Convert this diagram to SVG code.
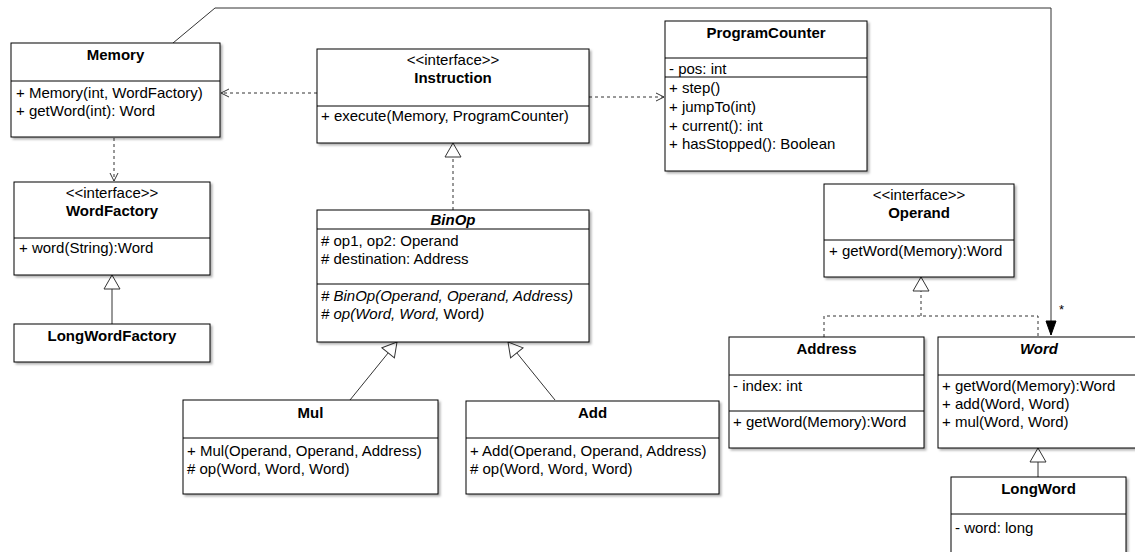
<svg xmlns="http://www.w3.org/2000/svg" width="1135" height="552" viewBox="0 0 1135 552">
<style>
text{font-family:"Liberation Sans",Arial,Helvetica,sans-serif;font-size:15px;fill:#000}
.t{font-weight:bold;text-anchor:middle}
.c{text-anchor:middle}
.i{font-style:italic}
.box{fill:#fff;stroke:#000;stroke-width:1;filter:url(#sh)}
.div{stroke:#000;stroke-width:1}
.ln{fill:none;stroke:#333;stroke-width:1}
.da{stroke-dasharray:3,3}
</style>
<defs>
<filter id="sh" x="-5%" y="-5%" width="115%" height="120%">
<feDropShadow dx="2" dy="2" stdDeviation="1.2" flood-color="#000" flood-opacity="0.3"/>
</filter>
<marker id="tri" markerUnits="userSpaceOnUse" markerWidth="20" markerHeight="20" refX="15" refY="8" orient="auto" overflow="visible"><path d="M1,0 L15,8 L1,16 Z" fill="#fff" stroke="#333" stroke-width="1"/></marker>
<marker id="open" markerUnits="userSpaceOnUse" markerWidth="12" markerHeight="12" refX="8" refY="4" orient="auto" overflow="visible"><path d="M0,0 L8,4 L0,8" fill="none" stroke="#333" stroke-width="1"/></marker>
<marker id="fill" markerUnits="userSpaceOnUse" markerWidth="16" markerHeight="12" refX="14" refY="5" orient="auto" overflow="visible"><path d="M0,0 L14,5 L0,10 Z" fill="#000" stroke="#000" stroke-width="1"/></marker>
</defs>
<rect width="1135" height="552" fill="#fff"/>

<g id="connectors">
<path class="ln" d="M173,43 L215,8 L1051,8 L1051,335" marker-end="url(#fill)"/>
<text x="1059" y="314" style="font-size:13px">*</text>
<path class="ln da" d="M317,93 L221,93" marker-end="url(#open)"/>
<path class="ln da" d="M589,97 L664,97" marker-end="url(#open)"/>
<path class="ln da" d="M114,138 L114,181" marker-end="url(#open)"/>
<path class="ln" d="M112,324 L112,275" marker-end="url(#tri)"/>
<path class="ln da" d="M453,210 L453,143" marker-end="url(#tri)"/>
<path class="ln" d="M350,400 L397,342" marker-end="url(#tri)"/>
<path class="ln" d="M555,400 L508,342" marker-end="url(#tri)"/>
<path class="ln da" d="M824,337 L824,316 L1038,316 L1038,337"/>
<path class="ln da" d="M921,316 L921,277" marker-end="url(#tri)"/>
<path class="ln" d="M1038,477 L1038,448" marker-end="url(#tri)"/>
</g>

<g id="Memory">
<rect class="box" x="11" y="43" width="209" height="94"/>
<line class="div" x1="11" y1="81" x2="220" y2="81"/>
<text class="t" x="115.5" y="60">Memory</text>
<text x="16" y="98">+ Memory(int, WordFactory)</text>
<text x="16" y="116">+ getWord(int): Word</text>
</g>

<g id="Instruction">
<rect class="box" x="317" y="49" width="272" height="94"/>
<line class="div" x1="317" y1="106" x2="589" y2="106"/>
<text class="c" x="453" y="65">&lt;&lt;interface&gt;&gt;</text>
<text class="t" x="453" y="83">Instruction</text>
<text x="321" y="121">+ execute(Memory, ProgramCounter)</text>
</g>

<g id="ProgramCounter">
<rect class="box" x="665" y="21" width="202" height="150"/>
<line class="div" x1="665" y1="58" x2="867" y2="58"/>
<line class="div" x1="665" y1="77" x2="867" y2="77"/>
<text class="t" x="766" y="38">ProgramCounter</text>
<text x="669" y="74">- pos: int</text>
<text x="669" y="93">+ step()</text>
<text x="669" y="112">+ jumpTo(int)</text>
<text x="669" y="131">+ current(): int</text>
<text x="669" y="149">+ hasStopped(): Boolean</text>
</g>

<g id="WordFactory">
<rect class="box" x="14" y="182" width="196" height="93"/>
<line class="div" x1="14" y1="238" x2="210" y2="238"/>
<text class="c" x="112" y="198">&lt;&lt;interface&gt;&gt;</text>
<text class="t" x="112" y="216">WordFactory</text>
<text x="19" y="253">+ word(String):Word</text>
</g>

<g id="LongWordFactory">
<rect class="box" x="14" y="324" width="196" height="38"/>
<text class="t" x="112" y="341">LongWordFactory</text>
</g>

<g id="BinOp">
<rect class="box" x="317" y="210" width="272" height="132"/>
<line class="div" x1="317" y1="229" x2="589" y2="229"/>
<line class="div" x1="317" y1="284" x2="589" y2="284"/>
<text class="t i" x="453" y="225">BinOp</text>
<text x="321" y="246"># op1, op2: Operand</text>
<text x="321" y="264"># destination: Address</text>
<text class="i" x="321" y="301"># BinOp(Operand, Operand, Address)</text>
<text x="321" y="319"><tspan class="i"># op(Word, Word, </tspan><tspan>Word</tspan><tspan class="i">)</tspan></text>
</g>

<g id="Mul">
<rect class="box" x="183" y="400" width="255" height="94"/>
<line class="div" x1="183" y1="438" x2="438" y2="438"/>
<text class="t" x="310.5" y="418">Mul</text>
<text x="187" y="456">+ Mul(Operand, Operand, Address)</text>
<text x="187" y="474"># op(Word, Word, Word)</text>
</g>

<g id="Add">
<rect class="box" x="466" y="401" width="253" height="93"/>
<line class="div" x1="466" y1="438" x2="719" y2="438"/>
<text class="t" x="592.5" y="418">Add</text>
<text x="470" y="456">+ Add(Operand, Operand, Address)</text>
<text x="470" y="474"># op(Word, Word, Word)</text>
</g>

<g id="Operand">
<rect class="box" x="824" y="184" width="190" height="93"/>
<line class="div" x1="824" y1="240" x2="1014" y2="240"/>
<text class="c" x="919" y="200">&lt;&lt;interface&gt;&gt;</text>
<text class="t" x="919" y="218">Operand</text>
<text x="829" y="256">+ getWord(Memory):Word</text>
</g>

<g id="Address">
<rect class="box" x="729" y="337" width="195" height="111"/>
<line class="div" x1="729" y1="375" x2="924" y2="375"/>
<line class="div" x1="729" y1="411" x2="924" y2="411"/>
<text class="t" x="826.5" y="354">Address</text>
<text x="733" y="391">- index: int</text>
<text x="733" y="427">+ getWord(Memory):Word</text>
</g>

<g id="Word">
<rect class="box" x="938" y="337" width="204" height="111"/>
<line class="div" x1="938" y1="375" x2="1142" y2="375"/>
<text class="t i" x="1039" y="354">Word</text>
<text x="942" y="391">+ getWord(Memory):Word</text>
<text x="942" y="409">+ add(Word, Word)</text>
<text x="942" y="427">+ mul(Word, Word)</text>
</g>

<g id="LongWord">
<rect class="box" x="951" y="477" width="175" height="85"/>
<line class="div" x1="951" y1="514" x2="1126" y2="514"/>
<text class="t" x="1038.5" y="494">LongWord</text>
<text x="955" y="533">- word: long</text>
</g>
</svg>
